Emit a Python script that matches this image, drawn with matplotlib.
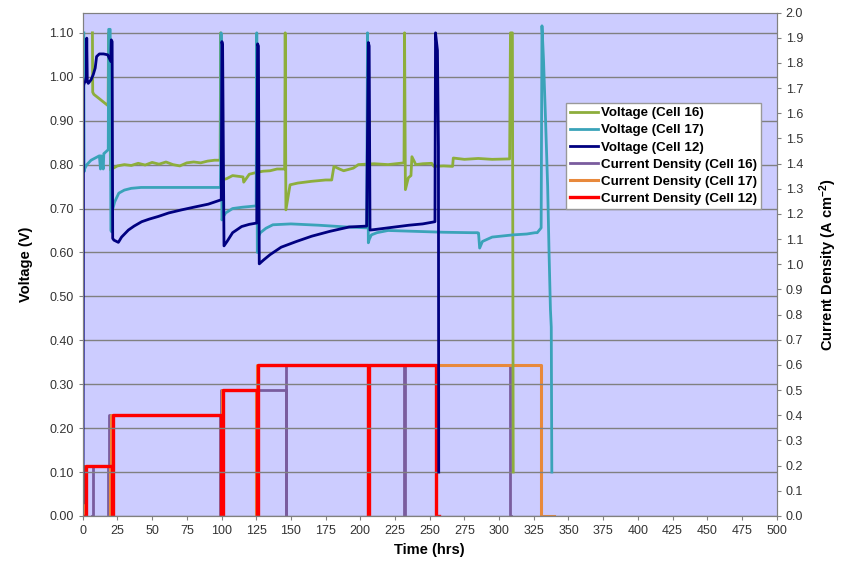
import matplotlib
matplotlib.use("Agg")
import matplotlib.pyplot as plt
import numpy as np

plt.rcParams['font.family'] = ['Liberation Sans', 'DejaVu Sans']
plt.rcParams['mathtext.fontset'] = 'custom'
plt.rcParams['mathtext.rm'] = 'Liberation Sans'
plt.rcParams['mathtext.bf'] = 'Liberation Sans:bold'
plt.rcParams['mathtext.default'] = 'bf'

# Voltage traces (time in hrs, voltage in V)
t_v16 = [7.0, 7.2, 8, 12, 18.3, 18.6, 19.2, 20.0, 21, 25, 30, 35, 40, 45, 50, 55, 60, 65, 70,
         75, 80, 85, 90, 95, 99.0, 99.4, 100.2, 103.7, 108, 115.5, 116, 120, 125, 130, 135,
         140, 145.5, 145.9, 146.4, 149.4, 155, 165, 175, 179.4, 181, 185, 188, 195, 198.6,
         210, 220, 231.5, 231.9, 232.5, 234.6, 236.5, 237.2, 240, 245, 251.4, 253, 260, 266.5,
         267, 275, 285, 295, 307.6, 308.2, 309.6, 310.2]
v_v16 = [1.10, 0.965, 0.96, 0.95, 0.934, 1.10, 1.10, 0.788, 0.79, 0.797, 0.80, 0.798, 0.803,
         0.799, 0.805, 0.801, 0.806, 0.80, 0.797, 0.804, 0.806, 0.804, 0.808, 0.81, 0.81, 1.10,
         0.765, 0.768, 0.775, 0.772, 0.76, 0.778, 0.782, 0.785, 0.786, 0.79, 0.79, 1.10, 0.697,
         0.754, 0.758, 0.762, 0.765, 0.765, 0.796, 0.79, 0.786, 0.792, 0.80, 0.802, 0.80, 0.804,
         1.10, 0.743, 0.77, 0.775, 0.818, 0.80, 0.802, 0.803, 0.796, 0.797, 0.796, 0.815, 0.812,
         0.814, 0.812, 0.813, 1.10, 1.10, 0.10]

t_v17 = [0.8, 1.0, 1.3, 3, 6, 9, 12, 12.8, 13.2, 14.8, 15.2, 15.6, 18.4, 18.7, 19.8, 20.3,
         20.8, 21.5, 23, 26, 30, 35, 42, 60, 80, 99.3, 99.7, 100.3, 101, 103, 108, 115, 125,
         125.4, 125.8, 126.5, 128, 132, 137, 150, 170, 190, 204.6, 205.2, 205.8, 206.5, 208,
         212, 220, 240, 260, 280, 284.5, 285.2, 286, 288, 295, 310, 320, 326, 327.5, 330.3,
         330.9, 332, 333.5, 335, 336, 337, 337.6, 338]
v_v17 = [1.10, 0.784, 0.79, 0.80, 0.81, 0.815, 0.82, 0.79, 0.82, 0.79, 0.825, 0.826, 0.834,
         1.108, 1.108, 0.65, 0.647, 0.697, 0.715, 0.735, 0.742, 0.746, 0.748, 0.748, 0.748,
         0.748, 1.10, 0.674, 0.68, 0.69, 0.70, 0.703, 0.706, 1.10, 0.60, 0.636, 0.645, 0.655,
         0.663, 0.665, 0.662, 0.658, 0.656, 1.10, 0.622, 0.63, 0.64, 0.645, 0.65, 0.648, 0.646,
         0.645, 0.645, 0.644, 0.61, 0.625, 0.635, 0.64, 0.642, 0.645, 0.645, 0.656, 1.116,
         1.04, 0.90, 0.75, 0.60, 0.47, 0.43, 0.10]

t_v12 = [0.2, 0.6, 1.0, 2.0, 2.6, 2.9, 3.3, 4, 6, 7.6, 9, 10, 12, 15, 18, 20.2, 20.6, 21.2,
         21.6, 22.5, 25.7, 28, 32.9, 37, 42.5, 48, 54.5, 62, 71.3, 80, 90.5, 99.8, 100.3, 100.8,
         101.8, 104, 108, 114.5, 120, 125.4, 126.0, 126.6, 127.2, 130, 135, 143, 154, 165, 178,
         192, 204.6, 205.8, 206.4, 207, 210, 220, 235, 245, 253.8, 254.2, 255.6, 256.3, 256.5]
v_v12 = [0.03, 0.98, 0.985, 0.99, 1.0, 1.088, 0.99, 0.985, 0.993, 1.005, 1.02, 1.046, 1.052,
         1.052, 1.05, 1.035, 1.084, 1.08, 0.632, 0.628, 0.623, 0.635, 0.651, 0.66, 0.670, 0.676,
         0.682, 0.69, 0.697, 0.703, 0.71, 0.72, 1.08, 1.07, 0.615, 0.625, 0.645, 0.659, 0.664,
         0.667, 1.075, 1.07, 0.574, 0.582, 0.595, 0.612, 0.625, 0.637, 0.648, 0.658, 0.66, 1.078,
         1.07, 0.651, 0.652, 0.656, 0.662, 0.665, 0.67, 1.10, 1.06, 0.84, 0.10]

# Current density steps (time in hrs, A cm-2)
t_j16 = [6.5, 7.2, 18.3, 18.8, 99.2, 99.6, 146.2, 146.8, 231.7, 232.3, 307.6, 308.3]
j_j16 = [0.0, 0.2, 0.0, 0.4, 0.0, 0.5, 0.0, 0.6, 0.0, 0.6, 0.0, 0.0]

t_j17 = [0.5, 1.2, 19.8, 20.6, 99.5, 100.2, 125.0, 125.8, 205.2, 205.8, 330.4, 339.5]
j_j17 = [0.0, 0.2, 0.0, 0.4, 0.0, 0.5, 0.0, 0.6, 0.0, 0.6, 0.0, 0.0]

t_j12 = [0.8, 2.2, 20.8, 21.6, 99.8, 100.8, 125.6, 126.5, 205.8, 206.6, 254.6, 256.5]
j_j12 = [0.0, 0.2, 0.0, 0.4, 0.0, 0.5, 0.0, 0.6, 0.0, 0.6, 0.0, 0.0]

x_ticks = np.arange(0, 501, 25)

fig = plt.figure(figsize=(8.67, 5.62), dpi=100)
ax = fig.add_axes([0.0954, 0.0819, 0.8004, 0.8956])
ax2 = ax.twinx()

# current density axis lies underneath the voltage axis
ax.set_zorder(ax2.get_zorder() + 1)
ax.patch.set_visible(False)
ax2.patch.set_facecolor('#CCCCFF')
ax2.patch.set_visible(True)

lw_v = 2.0
h1, = ax.plot(t_v16, v_v16, color='#8DAE3C', lw=lw_v, label='Voltage (Cell 16)')
h2, = ax.plot(t_v17, v_v17, color='#3AA3B9', lw=lw_v, label='Voltage (Cell 17)')
h3, = ax.plot(t_v12, v_v12, color='#000080', lw=lw_v, label='Voltage (Cell 12)')

h4, = ax2.plot(t_j16, j_j16, drawstyle='steps-post', color='#7A5C9E', lw=2.0,
               label='Current Density (Cell 16)')
h5, = ax2.plot(t_j17, j_j17, drawstyle='steps-post', color='#E8893C', lw=2.2,
               label='Current Density (Cell 17)')
h6, = ax2.plot(t_j12, j_j12, drawstyle='steps-post', color='#FF0000', lw=2.4,
               label='Current Density (Cell 12)')

ax.set_xlim(0, 500)
ax.set_ylim(0, 1.146)
ax2.set_ylim(0, 2.0)
ax.set_xticks(x_ticks)
ax.set_yticks(np.arange(0, 1.101, 0.1))
ax.set_yticklabels(['%.2f' % v for v in np.arange(0, 1.101, 0.1)])
ax2.set_yticks(np.arange(0, 2.001, 0.1))
ax2.set_yticklabels(['%.1f' % v for v in np.arange(0, 2.001, 0.1)])

ax.grid(axis='y', color='#808080', lw=1.0)
ax.set_axisbelow(True)

for a in (ax, ax2):
    for s in a.spines.values():
        s.set_color('#808080')
    a.tick_params(colors='#808080', labelcolor='#333333', labelsize=9, length=3, width=0.8)

ax.set_xlabel('Time (hrs)', fontsize=10.5, fontweight='bold', labelpad=4)
ax.set_ylabel('Voltage (V)', fontsize=10.5, fontweight='bold', labelpad=12)
ax2.set_ylabel('Current Density (A cm$^{-2}$)', fontsize=10.5, fontweight='bold', labelpad=10)

leg = ax.legend(handles=[h1, h2, h3, h4, h5, h6], loc='upper left',
                bbox_to_anchor=(566 / 867, 1 - 103 / 562), bbox_transform=fig.transFigure,
                prop={'weight': 'bold', 'size': 9.6}, frameon=True, fancybox=False,
                framealpha=1, edgecolor='#999999', handlelength=2.1, handletextpad=0.2,
                labelspacing=0.36, borderpad=0.3, borderaxespad=0)
leg.get_frame().set_linewidth(1.0)

fig.savefig('out.png', dpi=100, facecolor='white')
